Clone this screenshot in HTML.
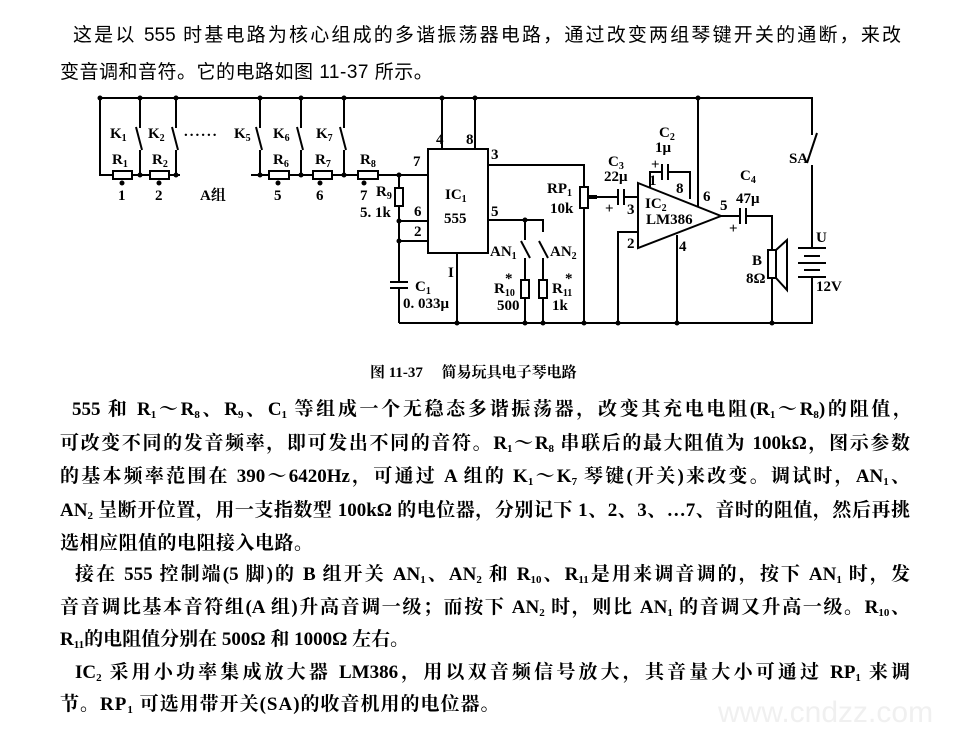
<!DOCTYPE html>
<html><head><meta charset="utf-8"><style>
body{margin:0;width:960px;height:739px;background:#fff;position:relative;overflow:hidden;font-family:"Liberation Serif","Noto Serif CJK SC",serif;color:#000}
.l{position:absolute;height:26px;line-height:26px;font-size:19px;font-weight:bold;white-space:nowrap;text-align:justify;text-align-last:justify}
.n{text-align-last:left}
sub{font-size:11px;vertical-align:-3px;line-height:0}
svg{position:absolute;left:0;top:0}
svg text{font-family:"Liberation Serif","Noto Serif CJK SC",serif;font-size:15px;font-weight:bold}
</style></head><body>
<div class="l" style="left:73px;top:23px;width:828px;font-weight:normal;font-family:'Liberation Sans','Noto Sans CJK SC',sans-serif;font-size:19px">这是以 555 时基电路为核心组成的多谐振荡器电路，通过改变两组琴键开关的通断，来改</div>
<div class="l n" style="left:60px;top:60px;font-weight:normal;font-family:'Liberation Sans','Noto Sans CJK SC',sans-serif;font-size:19px;letter-spacing:0.5px">变音调和音符。它的电路如图 11-37 所示。</div>

<svg width="960" height="739" viewBox="0 0 960 739" fill="none" stroke="#000" stroke-width="2">
<path d="M100 98H812V135M812 165V248M812 277V323H399"/>
<g fill="#000" stroke="none">
<circle cx="100" cy="98" r="2.5"/><circle cx="140" cy="98" r="2.5"/><circle cx="176" cy="98" r="2.5"/><circle cx="260" cy="98" r="2.5"/><circle cx="301" cy="98" r="2.5"/><circle cx="344" cy="98" r="2.5"/><circle cx="442" cy="98" r="2.5"/><circle cx="475" cy="98" r="2.5"/><circle cx="698" cy="98" r="2.5"/>
<circle cx="140" cy="175" r="2.5"/><circle cx="176" cy="175" r="2.5"/><circle cx="260" cy="175" r="2.5"/><circle cx="301" cy="175" r="2.5"/><circle cx="344" cy="175" r="2.5"/><circle cx="399" cy="175" r="2.5"/><circle cx="399" cy="221" r="2.5"/><circle cx="399" cy="241" r="2.5"/>
<circle cx="122" cy="183" r="2.5"/><circle cx="159" cy="183" r="2.5"/><circle cx="278" cy="183" r="2.5"/><circle cx="320" cy="183" r="2.5"/><circle cx="364" cy="183" r="2.5"/>
<circle cx="457" cy="323" r="2.5"/><circle cx="525" cy="323" r="2.5"/><circle cx="543" cy="323" r="2.5"/><circle cx="584" cy="323" r="2.5"/><circle cx="618" cy="323" r="2.5"/><circle cx="677" cy="323" r="2.5"/><circle cx="772" cy="323" r="2.5"/><circle cx="525" cy="220" r="2.5"/>
</g>
<path d="M100 98V175H113M132 175H150M169 175H180M251 175H269M289 175H313M332 175H358M378 175H428"/>
<rect x="113" y="171" width="19" height="8"/><rect x="150" y="171" width="19" height="8"/><rect x="269" y="171" width="20" height="8"/><rect x="313" y="171" width="19" height="8"/><rect x="358" y="171" width="20" height="8"/>
<g>
<path d="M140 98V128M136 127L142 150M140 150V175"/>
<path d="M176 98V128M172 127L178 150M176 150V175"/>
<path d="M260 98V128M256 127L262 150M260 150V175"/>
<path d="M301 98V128M297 127L303 150M301 150V175"/>
<path d="M344 98V128M340 127L346 150M344 150V175"/>
</g>
<path d="M399 175V188M399 206V282M399 288V323M399 221H428M399 241H428"/>
<rect x="395" y="188" width="8" height="18"/>
<path d="M390 282H408M390 288H408"/>
<rect x="428" y="149" width="60" height="104"/>
<path d="M442 98V149M475 98V149M457 253V323"/>
<path d="M488 165H584V187M584 208V323M488 220H543V232M525 220V240M521 241L530 258M525 258V280M525 298V323M539 241L548 258M543 258V280M543 298V323"/>
<rect x="580" y="187" width="8" height="21"/>
<rect x="521" y="280" width="8" height="18"/><rect x="539" y="280" width="8" height="18"/>
<path d="M588 197H597" stroke-width="4"/>
<path d="M597 197H618M624 197H638M618 189V205M624 189V205"/>
<path d="M638 183L721 216L638 248Z"/>
<path d="M638 232H618V323M677 235V323M698 98V207"/>
<path d="M650 188V172H662M668 172H690V199M662 164V180M668 164V180"/>
<path d="M721 216H740M746 216H772V250M772 278V323M740 208V224M746 208V224"/>
<rect x="768" y="250" width="8" height="28"/>
<path d="M776 250L787 240V290L776 278"/>
<path d="M817 133L807 163"/>
<path d="M798 248H826M804 256H820M798 263H826M804 270H820M798 277H826"/>
<g fill="#000" stroke="none">
<text x="110" y="138">K<tspan font-size="10" dy="3">1</tspan></text>
<text x="148" y="138">K<tspan font-size="10" dy="3">2</tspan></text>
<text x="184" y="136" letter-spacing="2">......</text>
<text x="234" y="138">K<tspan font-size="10" dy="3">5</tspan></text>
<text x="273" y="138">K<tspan font-size="10" dy="3">6</tspan></text>
<text x="316" y="138">K<tspan font-size="10" dy="3">7</tspan></text>
<text x="112" y="164">R<tspan font-size="10" dy="3">1</tspan></text>
<text x="152" y="164">R<tspan font-size="10" dy="3">2</tspan></text>
<text x="273" y="164">R<tspan font-size="10" dy="3">6</tspan></text>
<text x="315" y="164">R<tspan font-size="10" dy="3">7</tspan></text>
<text x="360" y="164">R<tspan font-size="10" dy="3">8</tspan></text>
<text x="118" y="200">1</text><text x="155" y="200">2</text><text x="274" y="200">5</text><text x="316" y="200">6</text><text x="360" y="200">7</text>
<text x="200" y="200">A组</text>
<text x="376" y="196">R<tspan font-size="10" dy="3">9</tspan></text>
<text x="360" y="217" font-weight="normal">5. 1k</text>
<text x="413" y="166" font-weight="normal">7</text><text x="414" y="216" font-weight="normal">6</text><text x="414" y="236" font-weight="normal">2</text>
<text x="436" y="144" font-weight="normal">4</text><text x="466" y="144" font-weight="normal">8</text>
<text x="491" y="159" font-weight="normal">3</text><text x="491" y="216" font-weight="normal">5</text>
<text x="448" y="277" font-weight="normal">I</text>
<text x="445" y="199">IC<tspan font-size="10" dy="3">1</tspan></text>
<text x="444" y="223" font-weight="normal">555</text>
<text x="415" y="291">C<tspan font-size="10" dy="3">1</tspan></text>
<text x="403" y="308" font-weight="normal">0. 033μ</text>
<text x="490" y="256">AN<tspan font-size="10" dy="3">1</tspan></text>
<text x="550" y="256">AN<tspan font-size="10" dy="3">2</tspan></text>
<text x="494" y="293">R<tspan font-size="10" dy="3">10</tspan></text><text x="505" y="283" font-size="11">*</text>
<text x="497" y="310" font-weight="normal">500</text>
<text x="552" y="293">R<tspan font-size="10" dy="3">11</tspan></text><text x="565" y="283" font-size="11">*</text>
<text x="552" y="310">1k</text>
<text x="547" y="193">RP<tspan font-size="10" dy="3">1</tspan></text>
<text x="550" y="213">10k</text>
<text x="608" y="166">C<tspan font-size="10" dy="3">3</tspan></text>
<text x="604" y="181">22μ</text>
<text x="605" y="213">+</text>
<text x="627" y="214">3</text><text x="627" y="248">2</text>
<text x="659" y="137">C<tspan font-size="10" dy="3">2</tspan></text>
<text x="655" y="152">1μ</text>
<text x="651" y="169" font-size="13">+</text>
<text x="649" y="185" font-weight="normal">1</text><text x="676" y="193" font-weight="normal">8</text>
<text x="645" y="208">IC<tspan font-size="10" dy="3">2</tspan></text>
<text x="646" y="224" font-weight="normal">LM386</text>
<text x="703" y="201" font-weight="normal">6</text><text x="720" y="210" font-weight="normal">5</text><text x="679" y="251" font-weight="normal">4</text>
<text x="740" y="180">C<tspan font-size="10" dy="3">4</tspan></text>
<text x="736" y="203">47μ</text>
<text x="729" y="233">+</text>
<text x="752" y="265">B</text><text x="746" y="283" font-weight="normal">8Ω</text>
<text x="789" y="163">SA</text>
<text x="816" y="242">U</text>
<text x="816" y="291" font-weight="normal">12V</text>
<text x="370" y="377" font-size="13">图 11-37　 简易玩具电子琴电路</text>
</g>
</svg>

<div class="l" style="left:72px;top:397px;width:840px">555 和 R<sub>1</sub>～R<sub>8</sub>、R<sub>9</sub>、C<sub>1</sub> 等组成一个无稳态多谐振荡器，改变其充电电阻(R<sub>1</sub>～R<sub>8</sub>)的阻值，</div>
<div class="l" style="left:60px;top:431px;width:850px">可改变不同的发音频率，即可发出不同的音符。R<sub>1</sub>～R<sub>8</sub> 串联后的最大阻值为 100kΩ，图示参数</div>
<div class="l" style="left:60px;top:464px;width:850px">的基本频率范围在 390～6420Hz，可通过 A 组的 K<sub>1</sub>～K<sub>7</sub> 琴键(开关)来改变。调试时，AN<sub>1</sub>、</div>
<div class="l" style="left:60px;top:498px;width:850px">AN<sub>2</sub> 呈断开位置，用一支指数型 100kΩ 的电位器，分别记下 1、2、3、…7、音时的阻值，然后再挑</div>
<div class="l n" style="left:60px;top:531px;letter-spacing:0.5px">选相应阻值的电阻接入电路。</div>
<div class="l" style="left:75px;top:562px;width:835px">接在 555 控制端(5 脚)的 B 组开关 AN<sub>1</sub>、AN<sub>2</sub> 和 R<sub>10</sub>、R<sub>11</sub>是用来调音调的，按下 AN<sub>1</sub> 时，发</div>
<div class="l" style="left:60px;top:595px;width:850px">音音调比基本音符组(A 组)升高音调一级；而按下 AN<sub>2</sub> 时，则比 AN<sub>1</sub> 的音调又升高一级。R<sub>10</sub>、</div>
<div class="l n" style="left:60px;top:627px;letter-spacing:0px">R<sub>11</sub>的电阻值分别在 500Ω 和 1000Ω 左右。</div>
<div class="l" style="left:75px;top:660px;width:835px">IC<sub>2</sub> 采用小功率集成放大器 LM386，用以双音频信号放大，其音量大小可通过 RP<sub>1</sub> 来调</div>
<div class="l n" style="left:60px;top:692px;letter-spacing:1px">节。RP<sub>1</sub> 可选用带开关(SA)的收音机用的电位器。</div>
<div style="position:absolute;left:718px;top:696px;font-family:'Liberation Sans',sans-serif;font-size:30px;color:#f0f0f0">www.cndzz.com</div>
</body></html>
